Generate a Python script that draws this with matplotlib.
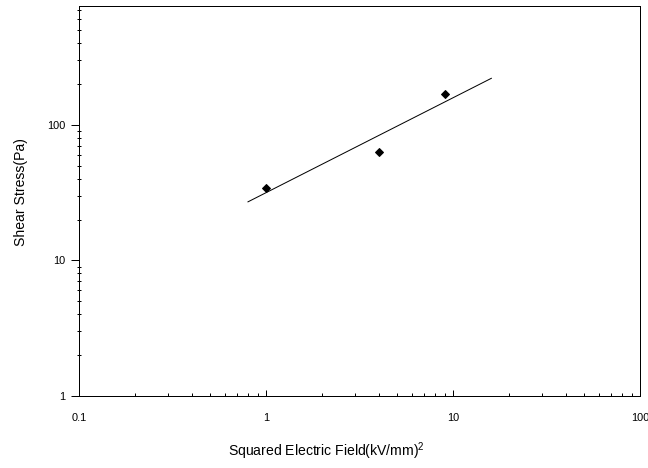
import matplotlib
matplotlib.use("Agg")
import matplotlib.pyplot as plt
from matplotlib.ticker import LogLocator, FixedLocator, FixedFormatter, NullFormatter

plt.rcParams['font.family'] = ['Liberation Sans', 'DejaVu Sans']
plt.rcParams['mathtext.fontset'] = 'custom'
plt.rcParams['mathtext.rm'] = 'Liberation Sans'

# measured points
field_sq = [1, 4, 9]
stress = [34, 63, 168]

# fitted line ends
fit_x = [0.8, 16]
fit_y = [27, 220]

xticks = [0.1, 1, 10, 100]
xlabels = ['0.1', '1', '10', '100']
yticks = [1, 10, 100]
ylabels = ['1', '10', '100']

fig = plt.figure(figsize=(9, 6.5), dpi=72)
ax = fig.add_axes([0.122, 0.154, 0.866, 0.833])

ax.plot(fit_x, fit_y, color='black', linewidth=1.0)
ax.plot(field_sq, stress, linestyle='none', marker='D', markersize=5, color='black')

ax.set_xscale('log')
ax.set_yscale('log')
ax.set_xlim(0.1, 100)
ax.set_ylim(1, 750)

ax.xaxis.set_major_locator(FixedLocator(xticks))
ax.xaxis.set_major_formatter(FixedFormatter(xlabels))
ax.xaxis.set_minor_locator(LogLocator(base=10, subs=range(2, 10)))
ax.xaxis.set_minor_formatter(NullFormatter())
ax.yaxis.set_major_locator(FixedLocator(yticks))
ax.yaxis.set_major_formatter(FixedFormatter(ylabels))
ax.yaxis.set_minor_locator(LogLocator(base=10, subs=range(2, 10)))
ax.yaxis.set_minor_formatter(NullFormatter())

ax.tick_params(axis='x', which='major', direction='in', length=6, width=1, labelsize=11, pad=17)
ax.tick_params(axis='x', which='minor', direction='in', length=3, width=1)
ax.tick_params(axis='y', which='major', direction='out', length=8, width=1, labelsize=11, pad=6)
ax.tick_params(axis='y', which='minor', direction='inout', length=4, width=1)

for s in ax.spines.values():
    s.set_linewidth(1.0)

ax.set_xlabel('Squared Electric Field(kV/mm)$^2$', fontsize=14)
ax.set_ylabel('Shear Stress(Pa)', fontsize=14)
# label positions in axes fraction
ax.xaxis.set_label_coords(0.44, -0.115)
ax.yaxis.set_label_coords(-0.091, 0.523)

fig.savefig('out.png', dpi=72)
